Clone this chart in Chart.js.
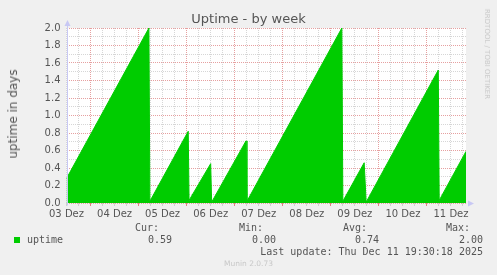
<!DOCTYPE html>
<html>
<head>
<meta charset="utf-8">
<script src="https://cdn.jsdelivr.net/npm/chart.js@4/dist/chart.umd.min.js"></script>
<style>
  html,body{margin:0;padding:0;background:#f0f0f0;}
  #wrap{position:relative;width:497px;height:275px;overflow:hidden;font-family:"DejaVu Sans",sans-serif;color:#555;}
  #wrap canvas{position:absolute;left:0;top:0;}
  .t{position:absolute;white-space:nowrap;line-height:12px;}
  .mono{font-family:"DejaVu Sans Mono",monospace;font-size:10px;color:#555;}
  .r{text-align:right;}
</style>
</head>
<body>
<div id="wrap">
  <canvas id="c" width="497" height="275"></canvas>
  <div class="t" style="left:0;width:497px;top:12px;text-align:center;font-size:13px;line-height:14px;">Uptime - by week</div>
  <div class="t" style="left:13px;top:114px;font-size:12px;transform:translate(-50%,-50%) rotate(-90deg);">uptime in days</div>
  <div class="t" style="left:487px;top:54px;font-size:7px;color:#c8c8c8;transform:translate(-50%,-50%) rotate(90deg);">RRDTOOL / TOBI OETIKER</div>

  <div class="t mono r" style="right:338px;top:222px;">Cur:</div>
  <div class="t mono r" style="right:234px;top:222px;">Min:</div>
  <div class="t mono r" style="right:130px;top:222px;">Avg:</div>
  <div class="t mono r" style="right:27px;top:222px;">Max:</div>

  <div style="position:absolute;left:14px;top:237px;width:6px;height:6px;background:#00cc00;"></div>
  <div class="t mono" style="left:27px;top:234px;">uptime</div>
  <div class="t mono r" id="vCur" style="right:325px;top:234px;"></div>
  <div class="t mono r" id="vMin" style="right:221px;top:234px;"></div>
  <div class="t mono r" id="vAvg" style="right:118px;top:234px;"></div>
  <div class="t mono r" id="vMax" style="right:14px;top:234px;"></div>

  <div class="t mono r" style="right:14px;top:246px;">Last update: Thu Dec 11 19:30:18 2025</div>
  <div class="t" style="left:0;width:497px;text-align:center;top:258px;font-size:7.5px;color:#c8c8c8;">Munin 2.0.73</div>
</div>
<script>
/* =========================
   Data (x = days since 03 Dez 00:00)
========================= */
const dayLabels  = ['03 Dez','04 Dez','05 Dez','06 Dez','07 Dez','08 Dez','09 Dez','10 Dez','11 Dez'];
const sampleDays = [0.5, 2.215, 2.235, 3.033, 3.05, 3.5, 3.52, 4.235, 4.255, 6.229, 6.25, 6.694, 6.735, 8.236, 8.255, 8.8125];
const uptimeDays = [0.28, 2.0, 0.02, 0.82, 0.03, 0.45, 0.01, 0.71, 0.02, 2.0, 0.02, 0.46, 0.01, 1.52, 0.03, 0.59];
const legendCur = '0.59', legendMin = '0.00', legendAvg = '0.74', legendMax = '2.00';

document.getElementById('vCur').textContent = legendCur;
document.getElementById('vMin').textContent = legendMin;
document.getElementById('vAvg').textContent = legendAvg;
document.getElementById('vMax').textContent = legendMax;

const MAJOR = '#e6a0a0', MINOR = '#d6d6d6', AXIS = '#c8c8f4';
const xMin = 0.5, xMax = 8.8125;

// white plot background + axes with arrows (rrdtool look)
const rrdFrame = {
  id:'rrdFrame',
  beforeDraw(chart){
    const {ctx, chartArea:a} = chart;
    ctx.save();
    ctx.fillStyle = '#fff';
    ctx.fillRect(a.left, a.top, a.right-a.left, a.bottom-a.top);
    ctx.restore();
  },
  afterDatasetsDraw(chart){
    const {ctx, chartArea:a} = chart;
    ctx.save();
    ctx.strokeStyle = AXIS; ctx.fillStyle = AXIS; ctx.lineWidth = 1;
    const x0 = Math.round(a.left)+0.5, y0 = Math.round(a.bottom)+0.5;
    ctx.beginPath();
    ctx.moveTo(x0, y0+2); ctx.lineTo(x0, a.top-3);
    ctx.stroke();
    ctx.beginPath();
    ctx.moveTo(x0, a.top-8); ctx.lineTo(x0-3, a.top-2); ctx.lineTo(x0+3, a.top-2); ctx.closePath(); ctx.fill();
    ctx.beginPath();
    ctx.moveTo(a.right+8, y0); ctx.lineTo(a.right+2, y0-3); ctx.lineTo(a.right+2, y0+3); ctx.closePath(); ctx.fill();
    ctx.restore();
  }
};

new Chart(document.getElementById('c'), {
  type:'line',
  data:{
    datasets:[{
      label:'uptime',
      data: sampleDays.map((d,i)=>({x:d, y:uptimeDays[i]})),
      borderColor:'#00cc00',
      backgroundColor:'#00cc00',
      borderWidth:1,
      fill:'origin',
      pointRadius:0,
      tension:0
    }]
  },
  options:{
    responsive:false,
    devicePixelRatio:1,
    animation:false,
    layout:{padding:{left:0, top:28, right:31, bottom:52}},
    plugins:{legend:{display:false}, tooltip:{enabled:false}, title:{display:false}},
    scales:{
      x:{
        type:'linear', min:xMin, max:xMax,
        afterBuildTicks(scale){
          const t = [];
          for(let h=12; h<=xMax*24; h+=6) t.push({value:h/24});
          scale.ticks = t;
        },
        afterFit(scale){ scale.height = 20; },
        grid:{
          color:c=> Math.round(c.tick.value*24)%24===0 ? MAJOR : MINOR,
          tickColor:c=> Math.round(c.tick.value*24)%24===0 ? '#e08080' : '#cfcfcf',
          tickLength:3,
          lineWidth:1
        },
        border:{display:false, dash:[1,1]},
        ticks:{
          autoSkip:false, maxRotation:0, padding:2,
          color:'#555', font:{family:'DejaVu Sans', size:10},
          callback(v){
            const h = Math.round(v*24);
            return h%24===12 ? (dayLabels[(h-12)/24] || '') : '';
          }
        }
      },
      y:{
        min:0, max:2,
        afterBuildTicks(scale){
          const t = [];
          for(let i=0;i<=20;i++) t.push({value:i/10});
          scale.ticks = t;
        },
        afterFit(scale){ scale.width = 66.5; },
        grid:{
          color:c=> Math.round(c.tick.value*10)%2===0 ? MAJOR : MINOR,
          drawTicks:false,
          lineWidth:1
        },
        border:{display:false, dash:[1,1]},
        ticks:{
          autoSkip:false, padding:6,
          color:'#555', font:{family:'DejaVu Sans', size:10},
          callback(v){
            const k = Math.round(v*10);
            return k%2===0 ? (k/10).toFixed(1) : '';
          }
        }
      }
    }
  },
  plugins:[rrdFrame]
});
</script>
</body>
</html>
